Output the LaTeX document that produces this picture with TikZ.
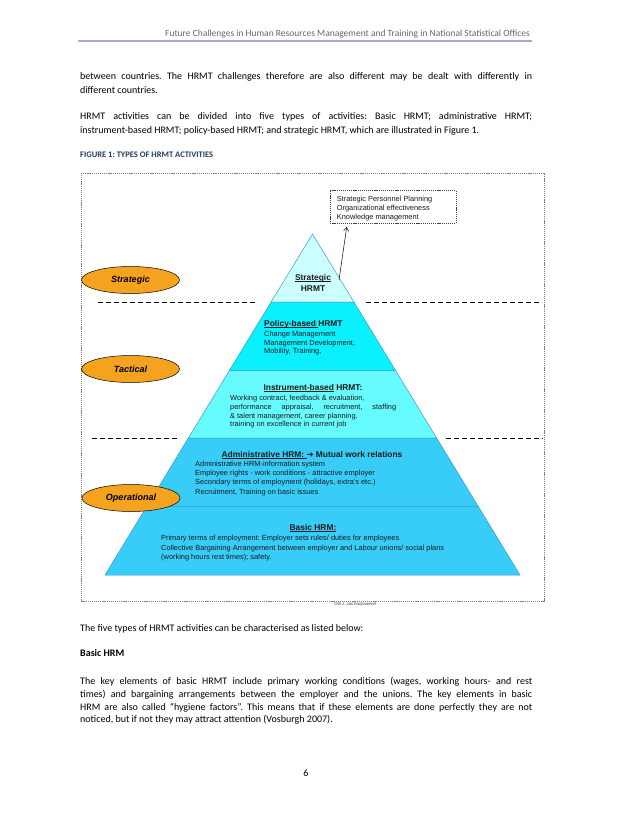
\documentclass[tikz,border=0pt]{standalone}
\usepackage{fontspec}
\setmainfont{Carlito}
\newfontfamily\arial{Liberation Sans}
\newfontfamily\djv{DejaVu Sans}
\usetikzlibrary{arrows.meta,shapes.geometric}
\definecolor{stratc}{HTML}{CCFFFF}
\definecolor{polc}{HTML}{0AF0FF}
\definecolor{instc}{HTML}{66FCFF}
\definecolor{admc}{HTML}{38CCF8}
\definecolor{basc}{HTML}{38CCF8}
\definecolor{tierline}{HTML}{3A9CC8}
\definecolor{ellc}{HTML}{F5A21F}
\definecolor{figblue}{HTML}{243F60}
\definecolor{hdrgray}{HTML}{666666}
\definecolor{hdrline}{HTML}{A6B0C3}
\definecolor{txtc}{HTML}{1A1A1A}
\newcommand\myul[1]{\setbox0\hbox{#1}\rlap{\rule[-1.3pt]{\wd0}{0.55pt}}\box0\relax}
\tikzset{
  body/.style={anchor=base west, inner sep=0pt, font=\fontsize{10}{13}\selectfont, text=black},
  tier/.style={draw=tierline, line width=0.5pt},
  tierhead/.style={inner sep=0pt, anchor=base, font=\arial\bfseries\fontsize{8.4}{10}\selectfont, text=txtc},
  tiertxt/.style={inner sep=0pt, anchor=base west, font=\arial\fontsize{7.4}{9}\selectfont, text=txtc},
  ell/.style={ellipse, draw=black, line width=0.5pt, fill=ellc, minimum width=98pt, minimum height=27pt, inner sep=0pt, font=\arial\bfseries\itshape\fontsize{9}{10}\selectfont},
  sep/.style={draw=black, line width=0.9pt, dash pattern=on 5pt off 3pt},
  frame/.style={draw=gray, line width=0.5pt, dash pattern=on 1.2pt off 0.9pt},
}
\begin{document}
\frenchspacing
\begin{tikzpicture}[x=1pt,y=-1pt]
\useasboundingbox (0,0) rectangle (638,826);
\fill[white] (0,0) rectangle (638,826);

% header
\node[anchor=base east, inner sep=0pt, font=\frenchspacing\fontsize{9.5}{11}\selectfont, text=hdrgray] (hdr) at (530,37) {Future Challenges in Human Resources Management and Training in National Statistical Offices};
\draw[hdrline, line width=1.3pt] (78,41) -- (532,41);

% body text above figure
\node[body] (l1) at (80,80) {\makebox[452pt][s]{between countries. The HRMT challenges therefore are also different may be dealt with differently in}};
\node[body] (l2) at (80,94) {different countries.};
\node[body] (l3) at (80,120) {\makebox[452pt][s]{HRMT activities can be divided into five types of activities: Basic HRMT; administrative HRMT;}};
\node[body] (l4) at (80,134) {instrument-based HRMT; policy-based HRMT; and strategic HRMT, which are illustrated in Figure 1.};
\node[body, font=\bfseries\fontsize{8.5}{10}\selectfont, text=figblue] (figcap) at (80,158) {FIGURE 1: TYPES OF HRMT ACTIVITIES};

% figure frame
\draw[frame] (81,173) rectangle (544,601);

% pyramid tiers
\filldraw[tier, fill=basc] (146.7,506.5) -- (478.3,506.5) -- (520,575) -- (105,575) -- cycle;
\filldraw[tier, fill=admc] (188.4,438) -- (436.6,438) -- (478.3,506.5) -- (146.7,506.5) -- cycle;
\filldraw[tier, fill=instc] (229.4,370.5) -- (395.6,370.5) -- (436.6,438) -- (188.4,438) -- cycle;
\filldraw[tier, fill=polc] (271.1,302) -- (353.9,302) -- (395.6,370.5) -- (229.4,370.5) -- cycle;
\filldraw[tier, fill=stratc] (312.5,234) -- (353.9,302) -- (271.1,302) -- cycle;

% separators
\draw[sep] (98,302) -- (258,302);
\draw[sep] (366,302) -- (542,302);
\draw[sep] (92,438) -- (178,438);
\draw[sep] (446,438) -- (543,438);

% strategic tier
\node[tierhead] (sh1) at (313,280.5) {\myul{Strategic}};
\node[tierhead] (sh2) at (313,291) {HRMT};

% policy tier
\node[tierhead, anchor=base west] (ph) at (264,326.5) {\myul{Policy-based\ }HRMT};
\node[tiertxt] (p1) at (264,336) {Change Management};
\node[tiertxt] (p2) at (264,345) {Management Development,};
\node[tiertxt] (p3) at (264,353.5) {Mobility, Training,};

% instrument tier
\node[tierhead] (ih) at (313,390) {\myul{Instrument-based}\ HRMT:};
\node[tiertxt] (i1) at (230,400.5) {Working contract, feedback \& evaluation,};
\node[tiertxt] (i2) at (230,409.5) {\makebox[166pt][s]{performance appraisal, recruitment, staffing}};
\node[tiertxt] (i3) at (230,418) {\& talent management, career planning,};
\node[tiertxt] (i4) at (230,426.5) {training on excellence in current job};

% administrative tier
\node[tierhead] (ah) at (312,457) {\myul{Administrative HRM:\ }{\djv\mdseries ➔}\ Mutual work relations};
\node[tiertxt] (a1) at (195,466.5) {Administrative HRM-information system};
\node[tiertxt] (a2) at (195,475.5) {Employee rights - work conditions - attractive employer};
\node[tiertxt] (a3) at (195,484.5) {Secondary terms of employment (holidays, extra's etc.)};
\node[tiertxt] (a4) at (195,494.5) {Recruitment, Training on basic issues};

% basic tier
\node[tierhead] (bh) at (313,530) {\myul{Basic HRM:}};
\node[tiertxt] (b1) at (161,540.5) {Primary terms of employment: Employer sets rules/ duties for employees};
\node[tiertxt] (b2) at (161,550.5) {Collective Bargaining Arrangement between employer and Labour unions/ social plans};
\node[tiertxt] (b3) at (161,559.5) {(working hours rest times); safety.};

% level ellipses
\node[ell] (estrat) at (130.5,280) {Strategic};
\node[ell] (etact) at (130.5,369) {Tactical};
\node[ell] (eoper) at (131,498) {Operational};

% callout box
\node[draw=darkgray, line width=0.5pt, dash pattern=on 1.2pt off 0.9pt, anchor=north west, minimum width=125.7pt, minimum height=33.3pt, inner sep=0pt] (callout) at (330,190) {};
\node[tiertxt] (c1) at (336.7,201.5) {Strategic Personnel Planning};
\node[tiertxt] (c2) at (336.7,210.5) {Organizational effectiveness};
\node[tiertxt] (c3) at (336.7,219.5) {Knowledge management};
\coordinate (arrS) at (339,280);
\coordinate (arrE) at (346.7,227);
\draw[line width=0.5pt, -{Straight Barb[length=3.5pt,width=5pt]}] (arrS) -- (arrE);

% copyright
\node[inner sep=0pt, font=\arial\fontsize{4.2}{5}\selectfont, text=darkgray] (copy) at (355,604) {©W.J. van Muijswinkel};

% body text below figure
\node[body] (m1) at (80,631) {The five types of HRMT activities can be characterised as listed below:};
\node[body, font=\bfseries\fontsize{10}{13}\selectfont] (m2) at (80,656) {Basic HRM};
\node[body] (m3) at (80,684) {\makebox[452pt][s]{The key elements of basic HRMT include primary working conditions (wages, working hours- and rest}};
\node[body] (m4) at (80,697) {\makebox[452pt][s]{times) and bargaining arrangements between the employer and the unions. The key elements in basic}};
\node[body] (m5) at (80,710) {\makebox[452pt][s]{HRM are also called “hygiene factors”. This means that if these elements are done perfectly they are not}};
\node[body] (m6) at (80,722.5) {noticed, but if not they may attract attention (Vosburgh 2007).};

% page number
\node[body, anchor=base] (pg) at (306,776) {6};
\end{tikzpicture}
\end{document}
